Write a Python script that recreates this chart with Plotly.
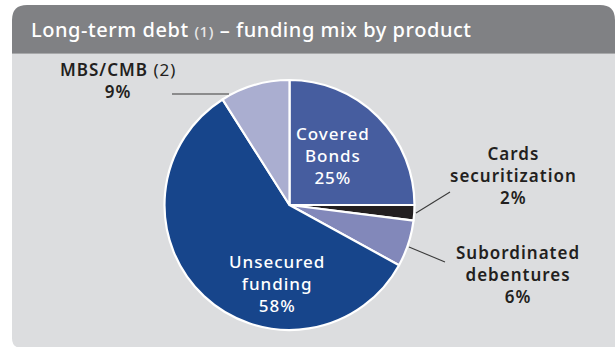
import plotly.graph_objects as go

W, H = 615, 347

# Funding mix (% of long-term debt), clockwise from 12 o'clock
products = ["Covered Bonds", "Cards securitization", "Subordinated debentures",
            "Unsecured funding", "MBS/CMB"]
shares = [25, 2, 6, 58, 9]
colors = ["#465d9f", "#231f20", "#8288ba", "#17458b", "#aaaed0"]

title_main = "Long-term debt"
title_note = "(1)"
title_rest = "– funding mix by product"

FONT = "Noto Sans"
DARK = "#231f20"


def px(x):
    return x / W


def py(y):
    return 1 - y / H


def share_text(name):
    return f"{shares[products.index(name)]}%"


def spaced(s, ls=1.0):
    return f"<span style='letter-spacing:{ls}px'>{s}</span>"


fig = go.Figure()

# pie geometry (pixels)
cx, cy, r = 289.5, 205, 125
fig.add_trace(go.Pie(
    labels=products,
    values=shares,
    sort=False,
    direction="clockwise",
    rotation=0,
    marker=dict(colors=colors, line=dict(color="white", width=2.2)),
    textinfo="none",
    hoverinfo="label+percent",
    showlegend=False,
    domain=dict(x=[px(cx - r), px(cx + r)], y=[py(cy + r), py(cy - r)]),
))

shapes = []
# light panel with rounded bottom-left corner
shapes.append(dict(
    type="path", xref="paper", yref="paper",
    path=(f"M {px(12)},{py(40)} L {px(12)},{py(338)} Q {px(12)},{py(348)} {px(22)},{py(348)} "
          f"L {px(616)},{py(348)} L {px(616)},{py(40)} Z"),
    fillcolor="#dcdddf", line=dict(width=0), layer="below"))
# header band with rounded top corners
shapes.append(dict(
    type="path", xref="paper", yref="paper",
    path=(f"M {px(12)},{py(53)} L {px(12)},{py(20)} Q {px(12)},{py(5)} {px(27)},{py(5)} "
          f"L {px(600)},{py(5)} Q {px(615)},{py(5)} {px(615)},{py(20)} L {px(615)},{py(53)} Z"),
    fillcolor="#808184", line=dict(width=0), layer="below"))
# thin lighter rule under the header
shapes.append(dict(type="line", xref="paper", yref="paper",
                   x0=px(12), x1=px(615), y0=py(53.5), y1=py(53.5),
                   line=dict(color="#a7a8aa", width=1), layer="below"))

# leader lines
leaders = [
    [(172, 94), (229, 94)],
    [(450, 192), (416, 213)],
    [(409, 247), (445, 262)],
]
for (x0, y0), (x1, y1) in leaders:
    shapes.append(dict(type="line", xref="paper", yref="paper",
                       x0=px(x0), y0=py(y0), x1=px(x1), y1=py(y1),
                       line=dict(color="#3b3b3b", width=1.1)))

annotations = []
# title
annotations.append(dict(
    x=px(29), y=py(30), xref="paper", yref="paper", xanchor="left", yanchor="middle",
    showarrow=False,
    text=spaced(f"{title_main} <span style='font-size:15px;color:#e8e8e8'>{title_note}</span> "
                f"{title_rest}", 0.55),
    font=dict(family=FONT, size=20, color="white", weight=500)))


def label(x, y, lines, color, size=17, weight="normal"):
    annotations.append(dict(
        x=px(x), y=py(y), xref="paper", yref="paper", xanchor="center", yanchor="middle",
        showarrow=False, align="center", text="<br>".join(spaced(s) for s in lines),
        font=dict(family=FONT, size=size, color=color, weight=weight)))


label(333, 155, ["Covered", "Bonds", share_text("Covered Bonds")], "white", weight=500)
label(277, 283, ["Unsecured", "funding", share_text("Unsecured funding")], "white", weight=500)
label(118, 80, ["MBS/CMB <span style='font-weight:normal'>(2)</span>", share_text("MBS/CMB")],
      DARK, weight=600)
label(513, 175, ["Cards", "securitization", share_text("Cards securitization")], DARK, weight=600)
label(518, 274, ["Subordinated", "debentures", share_text("Subordinated debentures")], DARK,
      weight=600)

fig.update_layout(
    width=W, height=H,
    margin=dict(l=0, r=0, t=0, b=0),
    paper_bgcolor="white",
    plot_bgcolor="white",
    shapes=shapes,
    annotations=annotations,
)

fig.write_html("out.html")
